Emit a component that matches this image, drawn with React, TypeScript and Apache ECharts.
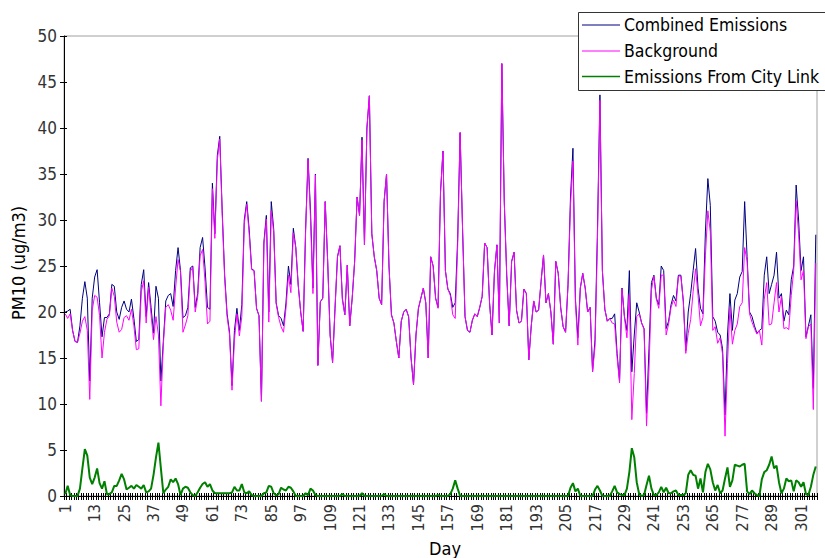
import React, { useEffect, useRef } from "react";
import * as echarts from "echarts";

// Day categories 1..307
const days: string[] = Array.from({ length: 307 }, (_, i) => String(i + 1));

// Combined Emissions (ug/m3)
const combined: number[] = [
  20.0, 20.1, 20.3, 18.0, 16.8, 16.7, 18.5, 21.5, 23.3, 21.5,
  12.5, 21.5, 23.8, 24.6, 21.0, 17.3, 19.4, 19.4, 19.8, 23.0,
  22.8, 20.0, 19.2, 20.5, 21.2, 20.3, 20.0, 21.4, 19.3, 16.8,
  17.0, 23.0, 24.6, 19.5, 23.2, 20.5, 17.7, 22.8, 21.5, 12.5,
  16.8, 21.2, 21.8, 22.0, 20.6, 24.5, 27.0, 24.5, 19.4, 19.6,
  20.5, 24.8, 25.0, 20.5, 22.0, 27.0, 28.1, 24.8, 20.5, 20.3,
  34.0, 28.5, 37.0, 39.1, 31.0, 24.0, 19.8, 17.8, 12.0, 18.0,
  20.4, 18.0, 20.8, 30.0, 32.0, 29.0, 24.7, 24.5, 20.4, 19.6,
  10.3, 27.6, 30.5, 20.0, 32.0, 29.0, 21.0, 19.6, 19.3, 18.5,
  21.0, 25.0, 23.0, 29.1, 27.0, 22.9, 20.0, 17.9, 29.0, 36.7,
  31.0, 22.6, 35.0, 14.2, 21.1, 21.5, 32.0, 25.5, 17.5, 14.5,
  20.4, 26.0, 27.2, 21.5, 19.7, 25.1, 18.5, 21.5, 25.5, 32.5,
  30.5, 39.0, 27.3, 40.0, 43.5, 28.5, 26.0, 24.5, 21.5, 20.8,
  32.0, 35.0, 25.0, 19.7, 18.8, 16.8, 15.0, 19.0, 20.0, 20.3,
  19.5, 15.0, 12.1, 17.5, 20.4, 21.5, 22.6, 21.0, 15.0, 26.0,
  25.0, 21.5, 20.5, 33.0, 37.5, 24.5, 22.5, 22.0, 20.5, 21.0,
  28.0, 39.5, 29.0, 19.5, 18.0, 17.8, 19.1, 19.8, 19.5, 20.5,
  21.7, 27.5, 27.0, 21.0, 17.5, 24.4, 27.3, 18.8, 47.0, 32.0,
  24.0, 18.5, 25.5, 26.5, 20.2, 18.8, 19.0, 22.5, 22.0, 14.8,
  18.5, 21.2, 20.0, 20.2, 23.3, 26.2, 21.0, 22.0, 20.0, 16.5,
  25.5, 24.2, 20.5, 18.4, 17.8, 23.0, 32.5, 37.8, 21.5, 17.2,
  22.6, 24.2, 22.6, 20.0, 20.5, 13.5, 17.0, 29.0, 43.6, 24.5,
  20.3, 19.0, 19.3, 19.3, 19.8, 15.5, 12.5, 22.6, 19.5, 18.0,
  24.5, 13.5, 17.5, 21.0, 20.0, 18.8, 18.2, 9.0, 16.0, 23.2,
  24.0, 21.5, 20.8, 25.0, 24.5, 18.2, 19.0, 20.8, 21.8, 21.2,
  24.0, 24.0, 21.2, 15.8, 20.0, 22.0, 24.5, 26.9, 22.6, 20.4,
  19.8, 28.7, 34.5, 31.6, 19.5, 19.0, 17.8, 17.5, 16.0, 8.8,
  17.5, 22.0, 18.0, 21.3, 22.0, 23.8, 24.4, 32.0, 26.0, 20.0,
  19.5, 18.5, 17.7, 18.0, 18.2, 24.0, 26.0, 22.0, 23.0, 24.0,
  26.5, 21.5, 22.0, 19.0, 20.2, 19.7, 23.5, 25.0, 33.8, 30.0,
  24.5, 26.0, 17.3, 18.5, 19.7, 11.7, 28.4,
];

// Background (ug/m3)
const background: number[] = [
  19.8, 19.3, 19.8, 18.0, 16.8, 16.7, 17.7, 19.0, 19.5, 18.0,
  10.5, 20.2, 21.8, 21.6, 19.6, 15.0, 17.8, 19.2, 19.6, 22.6,
  21.7, 18.9, 17.8, 18.1, 19.4, 19.6, 19.1, 20.3, 18.5, 15.9,
  16.0, 22.2, 23.4, 18.8, 22.7, 19.7, 17.0, 19.5, 17.5, 9.8,
  16.5, 20.5, 20.8, 20.2, 19.1, 22.6, 25.7, 24.4, 17.8, 18.6,
  19.6, 24.4, 24.9, 20.0, 21.6, 26.1, 26.8, 23.3, 18.7, 19.0,
  33.4, 28.0, 36.5, 38.8, 30.6, 23.7, 19.5, 17.5, 11.5, 17.0,
  19.8, 17.4, 19.5, 29.6, 31.7, 28.5, 24.6, 24.5, 20.4, 19.6,
  10.3, 27.3, 30.1, 18.9, 31.0, 28.7, 20.9, 19.4, 18.4, 17.8,
  20.4, 24.0, 22.1, 28.6, 27.0, 22.9, 20.0, 17.9, 28.7, 36.6,
  30.2, 22.0, 34.9, 14.2, 21.1, 21.5, 32.0, 25.5, 17.5, 14.5,
  20.4, 26.0, 27.2, 21.3, 19.7, 25.1, 18.5, 21.5, 25.5, 32.5,
  30.5, 38.7, 27.3, 40.0, 43.5, 28.5, 26.0, 24.5, 21.5, 20.8,
  32.0, 35.0, 25.0, 19.7, 18.8, 16.8, 15.0, 19.0, 20.0, 20.3,
  19.5, 15.0, 12.1, 17.5, 20.4, 21.5, 22.6, 21.0, 15.0, 26.0,
  25.0, 21.5, 20.4, 33.0, 37.5, 24.5, 22.5, 21.8, 19.7, 19.3,
  27.2, 39.5, 29.0, 19.5, 18.0, 17.8, 19.1, 19.8, 19.5, 20.5,
  21.7, 27.5, 27.0, 21.0, 17.5, 24.4, 27.3, 18.8, 47.0, 32.0,
  24.0, 18.5, 25.5, 26.5, 20.2, 18.8, 19.0, 22.5, 22.0, 14.8,
  18.5, 21.2, 20.0, 20.2, 23.3, 26.2, 21.0, 22.0, 20.0, 16.5,
  25.5, 24.2, 20.5, 18.4, 17.8, 23.0, 31.6, 36.4, 21.0, 16.4,
  22.6, 24.2, 22.6, 20.0, 20.5, 13.5, 16.3, 27.9, 43.0, 24.5,
  20.3, 19.0, 19.3, 18.8, 18.7, 15.1, 12.3, 22.5, 19.4, 17.2,
  21.9, 8.3, 13.3, 19.5, 19.8, 18.8, 18.1, 7.6, 13.8, 22.4,
  23.9, 21.4, 20.4, 24.0, 24.0, 17.5, 18.7, 20.5, 21.3, 20.6,
  23.9, 23.9, 21.1, 15.5, 17.7, 19.2, 22.2, 24.7, 21.8, 18.5,
  19.4, 26.1, 31.0, 28.7, 18.0, 18.4, 16.6, 17.2, 15.4, 6.5,
  14.4, 20.5, 16.5, 18.0, 18.7, 20.6, 21.0, 27.0, 25.5, 19.8,
  18.9, 18.2, 17.6, 18.0, 16.4, 21.4, 23.2, 18.6, 18.7, 21.0,
  23.2, 20.0, 21.7, 18.2, 18.3, 18.1, 21.8, 24.5, 32.1, 28.5,
  23.5, 24.5, 17.1, 18.4, 18.7, 9.4, 25.3,
];

// Emissions From City Link (ug/m3)
const cityLink: number[] = [
  0.2, 1.1, 0.1, 0, 0, 0, 0.8, 3.0, 5.1, 4.4,
  2.0, 1.3, 2.0, 3.0, 1.4, 0.8, 1.6, 0.2, 0.2, 0.4,
  1.1, 1.1, 1.7, 2.4, 1.8, 0.7, 0.9, 1.1, 0.8, 1.2,
  1.0, 0.8, 1.2, 0.4, 0.5, 0.8, 2.3, 4.2, 5.8, 3.0,
  0.3, 0.7, 1.0, 1.8, 1.5, 1.9, 1.3, 0.1, 0.8, 1.0,
  0.9, 0.4, 0.1, 0, 0.4, 0.9, 1.3, 1.5, 1.0, 1.3,
  0.6, 0.3, 0.3, 0.3, 0.3, 0.3, 0.3, 0.3, 0.4, 1.0,
  0.6, 0.6, 1.3, 0.4, 0.3, 0.5, 0.1, 0, 0, 0,
  0, 0.3, 0.4, 1.1, 1.0, 0.3, 0.1, 0.2, 0.9, 0.7,
  0.6, 1.0, 0.9, 0.5, 0, 0, 0, 0, 0.3, 0.1,
  0.8, 0.6, 0.1, 0, 0, 0, 0, 0, 0, 0,
  0, 0, 0, 0.2, 0, 0, 0, 0, 0, 0,
  0, 0.3, 0, 0, 0, 0, 0, 0, 0, 0,
  0.2, 0, 0, 0, 0, 0, 0, 0, 0, 0,
  0, 0, 0, 0, 0, 0, 0, 0, 0, 0,
  0, 0, 0.1, 0, 0, 0, 0, 0.2, 0.8, 1.7,
  0.8, 0, 0, 0, 0, 0, 0, 0, 0, 0,
  0, 0, 0, 0, 0, 0, 0, 0, 0, 0,
  0, 0, 0, 0, 0, 0, 0, 0, 0, 0,
  0, 0, 0, 0, 0, 0, 0, 0, 0, 0,
  0, 0, 0, 0, 0, 0, 0.9, 1.4, 0.5, 0.8,
  0, 0, 0, 0, 0, 0, 0.7, 1.1, 0.6, 0,
  0, 0, 0, 0.5, 1.1, 0.4, 0.2, 0.1, 0.1, 0.8,
  2.6, 5.2, 4.2, 1.5, 0.2, 0, 0.1, 1.2, 2.2, 0.8,
  0.1, 0.1, 0.4, 1.0, 0.4, 0.9, 0.3, 0.3, 0.5, 0.6,
  0.1, 0.1, 0.1, 0.3, 2.3, 2.8, 2.3, 2.2, 0.8, 1.9,
  0.4, 2.6, 3.5, 2.9, 1.5, 0.6, 1.2, 0.3, 0.6, 1.9,
  3.1, 1.0, 1.7, 3.4, 3.3, 3.2, 3.4, 3.5, 0.5, 0.2,
  0.6, 0.3, 0.1, 0, 1.8, 2.6, 2.8, 3.4, 4.3, 3.0,
  3.3, 1.5, 0.3, 0.8, 1.9, 1.6, 1.7, 0.5, 1.7, 1.5,
  1.0, 1.5, 0.2, 0.1, 1.0, 2.3, 3.2,
];

const seriesNames = ["Combined Emissions", "Background", "Emissions From City Link"];
const seriesColors = ["#000080", "#ff00ff", "#008000"];

const FONT = "'DejaVu Sans Condensed', 'DejaVu Sans', sans-serif";

export default function App() {
  const ref = useRef<HTMLDivElement>(null);

  useEffect(() => {
    document.body.style.margin = "0";
    if (!ref.current) return;
    const chart = echarts.init(ref.current, undefined, { renderer: "svg" });

    const legendYs = [25, 51, 76.5];
    const legendGraphics: any[] = [
      {
        type: "rect",
        shape: { x: 578.5, y: 12.5, width: 262, height: 78 },
        style: { fill: "#ffffff", stroke: "#333333", lineWidth: 1 },
        z: 100,
      },
    ];
    seriesNames.forEach((name, i) => {
      legendGraphics.push({
        type: "line",
        shape: { x1: 582, y1: legendYs[i], x2: 620, y2: legendYs[i] },
        style: { stroke: seriesColors[i], lineWidth: i === 2 ? 1.5 : 1 },
        z: 101,
      });
      legendGraphics.push({
        type: "text",
        x: 624,
        y: legendYs[i],
        style: {
          text: name,
          fill: "#000000",
          fontSize: 17.5,
          fontFamily: FONT,
          align: "left",
          verticalAlign: "middle",
        },
        z: 101,
      });
    });

    const option: any = {
      animation: false,
      grid: {
        left: 64,
        right: 8,
        top: 36,
        bottom: 62,
        show: true,
        borderColor: "#a0a0a0",
        borderWidth: 1,
        backgroundColor: "transparent",
      },
      xAxis: [
        {
          type: "category",
          data: days,
          boundaryGap: true,
          position: "bottom",
          axisLine: { show: true, lineStyle: { color: "#000", width: 1 } },
          axisTick: { show: true, interval: 0, length: 4, lineStyle: { color: "#000" } },
          axisLabel: {
            interval: 11,
            rotate: 90,
            fontSize: 16,
            color: "#333",
            fontFamily: FONT,
            margin: 8,
            padding: [0, 0, 16, 0],
          },
          splitLine: { show: false },
        },
        {
          type: "category",
          data: days,
          boundaryGap: true,
          position: "bottom",
          axisLine: { show: false },
          axisTick: { show: true, inside: true, interval: 0, length: 3, lineStyle: { color: "#000" } },
          axisLabel: { show: false },
          splitLine: { show: false },
        },
      ],
      yAxis: [
        {
          type: "value",
          min: 0,
          max: 50,
          interval: 5,
          position: "left",
          axisLine: { show: true, lineStyle: { color: "#000", width: 1 } },
          axisTick: { show: true, length: 4, lineStyle: { color: "#000" } },
          axisLabel: { fontSize: 17, color: "#333", fontFamily: FONT, margin: 7 },
          splitLine: { show: false },
        },
        {
          type: "value",
          min: 0,
          max: 50,
          interval: 5,
          position: "left",
          axisLine: { show: false },
          axisTick: { show: true, inside: true, length: 3, lineStyle: { color: "#000" } },
          axisLabel: { show: false },
          splitLine: { show: false },
        },
      ],
      series: [
        {
          name: seriesNames[0],
          type: "line",
          data: combined,
          xAxisIndex: 0,
          yAxisIndex: 0,
          symbol: "none",
          lineStyle: { color: seriesColors[0], width: 1 },
          itemStyle: { color: seriesColors[0] },
        },
        {
          name: seriesNames[1],
          type: "line",
          data: background,
          xAxisIndex: 0,
          yAxisIndex: 0,
          symbol: "none",
          lineStyle: { color: seriesColors[1], width: 1 },
          itemStyle: { color: seriesColors[1] },
        },
        {
          name: seriesNames[2],
          type: "line",
          data: cityLink,
          xAxisIndex: 0,
          yAxisIndex: 0,
          symbol: "none",
          lineStyle: { color: seriesColors[2], width: 2 },
          itemStyle: { color: seriesColors[2] },
        },
      ],
      graphic: [
        {
          type: "text",
          x: 18,
          y: 263,
          rotation: Math.PI / 2,
          style: {
            text: "PM10 (ug/m3)",
            fill: "#000",
            fontSize: 18,
            fontFamily: FONT,
            align: "center",
            verticalAlign: "middle",
          },
        },
        {
          type: "text",
          x: 445,
          y: 548,
          style: {
            text: "Day",
            fill: "#000",
            fontSize: 18,
            fontFamily: FONT,
            align: "center",
            verticalAlign: "middle",
          },
        },
        ...legendGraphics,
      ],
    };

    chart.setOption(option);
    return () => {
      chart.dispose();
    };
  }, []);

  return (
    <div
      ref={ref}
      style={{ position: "absolute", left: 0, top: 0, width: 825, height: 558 }}
    />
  );
}
